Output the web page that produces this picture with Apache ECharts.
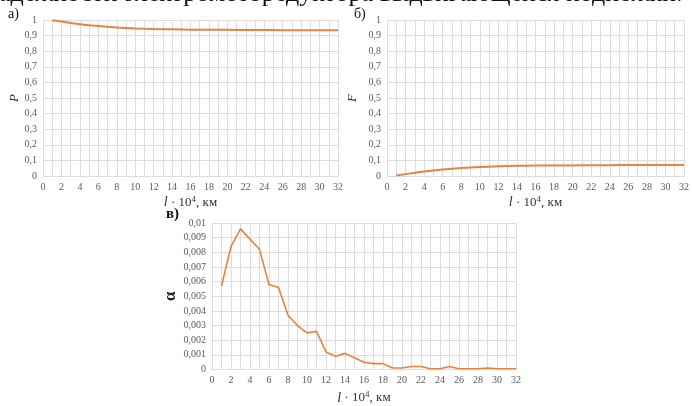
<!DOCTYPE html>
<html>
<head>
<meta charset="utf-8">
<script src="https://cdn.jsdelivr.net/npm/echarts@6/dist/echarts.min.js"></script>
<style>
  html, body { margin: 0; padding: 0; background: #fff; }
  #chart { width: 692px; height: 406px; }
</style>
</head>
<body>
<div id="chart"></div>
<script>
// пробег l·10^4 км
var distances = [1, 2, 3, 4, 5, 6, 7, 8, 9, 10, 11, 12, 13, 14, 15, 16,
  17, 18, 19, 20, 21, 22, 23, 24, 25, 26, 27, 28, 29, 30, 31, 32];
// а) вероятность безотказной работы P
var pValues = [0.998, 0.99, 0.981, 0.973, 0.966, 0.961, 0.956, 0.952, 0.949, 0.946, 0.944, 0.942,
  0.941, 0.94, 0.939, 0.938, 0.938, 0.937, 0.937, 0.937, 0.936, 0.936, 0.936, 0.936,
  0.936, 0.935, 0.935, 0.935, 0.935, 0.935, 0.934, 0.934];
// б) вероятность отказа F
var fValues = [0.003, 0.012, 0.021, 0.029, 0.036, 0.042, 0.047, 0.051, 0.055, 0.058, 0.06, 0.062,
  0.064, 0.065, 0.066, 0.067, 0.067, 0.068, 0.068, 0.068, 0.069, 0.069, 0.069, 0.069,
  0.07, 0.07, 0.07, 0.07, 0.07, 0.071, 0.071, 0.071];
// в) интенсивность отказов α
var alphaValues = [0.0057, 0.0084, 0.0096, 0.0089, 0.0082, 0.0058, 0.0056, 0.0037, 0.003, 0.0025, 0.0026, 0.0012,
  0.0009, 0.0011, 0.0008, 0.0005, 0.0004, 0.0004, 0.0001, 0.0001, 0.0002, 0.0002, 0.00005, 0.00005,
  0.0002, 0.00005, 0.00005, 0.00005, 0.0001, 0.00005, 0.00005, 0.00005];
var xLabels = ['0', '2', '4', '6', '8', '10', '12', '14', '16', '18', '20', '22', '24', '26', '28', '30', '32'];

var lineColor = '#E5843F';
var gridColor = '#dcdcdc';
var labelColor = '#595959';
var serif = '"Liberation Serif", "DejaVu Serif", serif';

function toPairs(vals) {
  return distances.map(function (d, i) { return [d, vals[i]]; });
}
function comma(digits) {
  return function (v) { return (+v.toFixed(digits)).toString().replace('.', ','); };
}
function xAxis(idx, gap) {
  return {
    gridIndex: idx, type: 'value', min: 0, max: 32, interval: 1,
    axisLine: { show: true, lineStyle: { color: gridColor } },
    axisTick: { show: false },
    splitLine: { show: true, lineStyle: { color: gridColor, width: 1 } },
    axisLabel: {
      color: labelColor, fontFamily: serif, fontSize: 10, margin: 6,
      formatter: function (v) { return v % 2 === 0 ? xLabels[v / 2] : ''; }
    },
    name: '{i|l} · 10{s|4}, км', nameLocation: 'middle', nameGap: gap,
    nameTextStyle: {
      color: '#333', fontFamily: serif, fontSize: 13,
      rich: { i: { fontStyle: 'italic', fontSize: 14, fontFamily: serif, color: '#333' },
              s: { fontSize: 9, verticalAlign: 'top', fontFamily: serif, color: '#333', padding: [0, 0, 6, 0] } }
    }
  };
}
function yAxis(idx, max, interval, digits, name, nameStyle) {
  return {
    gridIndex: idx, type: 'value', min: 0, max: max, interval: interval,
    axisLine: { show: false }, axisTick: { show: false },
    splitLine: { show: true, lineStyle: { color: gridColor, width: 1 } },
    axisLabel: { color: labelColor, fontFamily: serif, fontSize: 10, margin: 6, formatter: comma(digits) },
    name: name, nameLocation: 'middle', nameGap: nameStyle.gap, nameRotate: 90,
    nameTextStyle: nameStyle.text
  };
}
function series(idx, vals, width) {
  return {
    type: 'line', xAxisIndex: idx, yAxisIndex: idx, data: toPairs(vals),
    showSymbol: false, smooth: false,
    lineStyle: { color: lineColor, width: width }, silent: true
  };
}

var chart = echarts.init(document.getElementById('chart'));
chart.setOption({
  animation: false,
  grid: [
    { left: 43, top: 20, width: 295, height: 156 },
    { left: 387, top: 20, width: 298, height: 156 },
    { left: 212, top: 223, width: 304, height: 154 }
  ],
  xAxis: [xAxis(0, 19), xAxis(1, 19), xAxis(2, 21)],
  yAxis: [
    yAxis(0, 1, 0.1, 1, 'P', { gap: 21, text: { color: '#333', fontFamily: serif, fontStyle: 'italic', fontSize: 13 } }),
    yAxis(1, 1, 0.1, 1, 'F', { gap: 28, text: { color: '#333', fontFamily: serif, fontStyle: 'italic', fontSize: 13 } }),
    yAxis(2, 0.01, 0.001, 3, 'α', { gap: 32, text: { color: '#222', fontFamily: serif, fontWeight: 'bold', fontSize: 17 } })
  ],
  series: [series(0, pValues, 2), series(1, fValues, 2), series(2, alphaValues, 1.6)],
  graphic: [
    { type: 'text', left: -15, top: -19, style: { text: 'надежности электромоторедуктора выдвигающейся подножки.', font: '26px ' + serif, fill: '#111' } },
    { type: 'text', left: 8, top: 7, style: { text: 'а)', font: '14px ' + serif, fill: '#111' } },
    { type: 'text', left: 354, top: 7, style: { text: 'б)', font: '14px ' + serif, fill: '#111' } },
    { type: 'text', left: 166, top: 207, style: { text: 'в)', font: 'bold 15px ' + serif, fill: '#111' } }
  ]
});
</script>
</body>
</html>
